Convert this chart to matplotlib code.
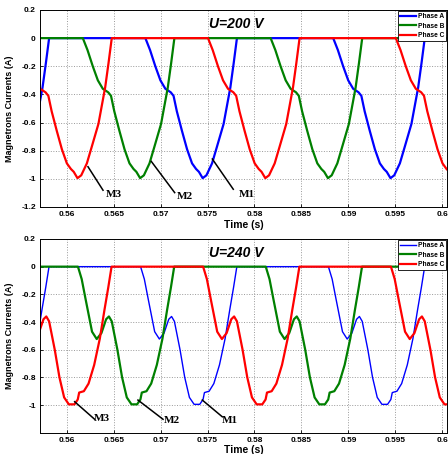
import matplotlib.pyplot as plt

phases = ['Phase A', 'Phase B', 'Phase C']
colors = ['#0000ff', '#008000', '#ff0000']

# U=200 V : one current pulse, time from pulse start (s) and current (A)
pulse200_t = [0, 0.0005, 0.00106, 0.0016, 0.00213, 0.0027, 0.0030, 0.00335, 0.0039,
              0.00444, 0.00497, 0.0054, 0.0057, 0.0061, 0.0065, 0.0071, 0.00763,
              0.00833, 0.00905, 0.0094, 0.00975]
pulse200_i = [0, -0.085, -0.2, -0.3, -0.36, -0.385, -0.41, -0.52, -0.66,
              -0.79, -0.89, -0.93, -0.95, -0.995, -0.975, -0.89, -0.77,
              -0.61, -0.35, -0.18, 0]
# pulse start times of phase A, B, C
starts200 = [[0.54838, 0.56838, 0.58838],
             [0.54172, 0.56172, 0.58172],
             [0.55505, 0.57505, 0.59505]]

# U=240 V
pulse240_t = [0, 0.0004, 0.0008, 0.00115, 0.0015, 0.0020, 0.0025, 0.0030, 0.0033,
              0.0036, 0.0042, 0.0047, 0.0052, 0.0057, 0.0063, 0.00665, 0.0068,
              0.0073, 0.0078, 0.0084, 0.0090, 0.0095, 0.0099, 0.01025]
pulse240_i = [0, -0.09, -0.23, -0.35, -0.47, -0.523, -0.48, -0.38, -0.36,
              -0.395, -0.60, -0.80, -0.945, -0.995, -0.995, -0.96, -0.91,
              -0.90, -0.845, -0.71, -0.52, -0.31, -0.15, 0]
starts240 = [[0.54787, 0.56787, 0.58787],
             [0.5412, 0.5612, 0.5812],
             [0.55453, 0.57453, 0.59453]]

xticks = [0.56, 0.565, 0.57, 0.575, 0.58, 0.585, 0.59, 0.595, 0.6]
xticklabels = ['0.56', '0.565', '0.57', '0.575', '0.58', '0.585', '0.59', '0.595', '0.6']
yticks = [0.2, 0, -0.2, -0.4, -0.6, -0.8, -1, -1.2]
yticklabels = ['0.2', '0', '-0.2', '-0.4', '-0.6', '-0.8', '-1', '-1.2']

# M1..M3 markers: point on curve, end of leader, text position
marks200 = [('M3', (0.56227, -0.914), (0.56387, -1.081), (0.56422, -1.114)),
            ('M2', (0.56901, -0.876), (0.5715, -1.098), (0.57172, -1.127)),
            ('M1', (0.57551, -0.859), (0.57774, -1.074), (0.57828, -1.111))]
marks240 = [('M3', (0.56085, -0.976), (0.56298, -1.103), (0.56291, -1.10)),
            ('M2', (0.56759, -0.964), (0.57026, -1.103), (0.57036, -1.114)),
            ('M1', (0.57444, -0.964), (0.57657, -1.085), (0.5765, -1.115))]


def build(starts, pt, pi):
    t = [0.53]
    cur = [0]
    for s in starts:
        for a, b in zip(pt, pi):
            t.append(s + a)
            cur.append(b)
    t.append(0.62)
    cur.append(0)
    return t, cur


plt.rcParams['font.family'] = ['Liberation Sans', 'DejaVu Sans']

fig = plt.figure(figsize=(4.48, 4.54), dpi=100)
ax1 = fig.add_axes([0.0893, 0.5441, 0.9085, 0.4339])
ax2 = fig.add_axes([0.0893, 0.0469, 0.9085, 0.4267])

panels = [(ax1, 'U=200 V', starts200, pulse200_t, pulse200_i, [1.6, 1.6, 1.6], marks200, yticks),
          (ax2, 'U=240 V', starts240, pulse240_t, pulse240_i, [1.0, 1.6, 1.6], marks240, yticks[:-1])]

for ax, title, starts, pt, pi, widths, marks, yt in panels:
    for k in range(3):
        t, cur = build(starts[k], pt, pi)
        ax.plot(t, cur, color=colors[k], lw=widths[k], label=phases[k])
    for name, p0, p1, ptxt in marks:
        ax.plot([p0[0], p1[0]], [p0[1], p1[1]], color='k', lw=1.1)
        ax.text(ptxt[0], ptxt[1], name, ha='left', va='center', fontsize=8,
                fontweight='bold', family='Liberation Serif')
    ax.text(0.57515, 0.1, title, ha='left', va='center', fontsize=10,
            fontweight='bold', fontstyle='italic')
    ax.set_xlim(0.55716, 0.6005)
    ax.set_ylim(-1.2, 0.2)
    ax.set_xticks(xticks)
    ax.set_xticklabels(xticklabels)
    ax.set_yticks(yt)
    ax.set_yticklabels(yticklabels[:len(yt)])
    ax.tick_params(direction='in', length=2, labelsize=6, pad=3, width=0.6)
    for lab in ax.get_xticklabels() + ax.get_yticklabels():
        lab.set_fontweight('bold')
    ax.grid(True, linestyle=':', color='#999999', lw=0.7)
    for sp in ax.spines.values():
        sp.set_linewidth(0.7)
    ax.set_xlabel('Time (s)', fontsize=7.5, fontweight='bold', labelpad=1)
    ax.set_ylabel('Magnetrons Currents (A)', fontsize=6.5, fontweight='bold')
    ax.yaxis.set_label_coords(-0.063, 0.5)
    leg = ax.legend(loc='upper right', borderaxespad=0.15, fontsize=4.75, fancybox=False,
                    edgecolor='k', framealpha=1, handlelength=2.4, handletextpad=0.3,
                    labelspacing=0.4, borderpad=0.3)
    leg.get_frame().set_linewidth(0.6)
    for txt in leg.get_texts():
        txt.set_fontweight('bold')

fig.savefig('out.png', dpi=100)
